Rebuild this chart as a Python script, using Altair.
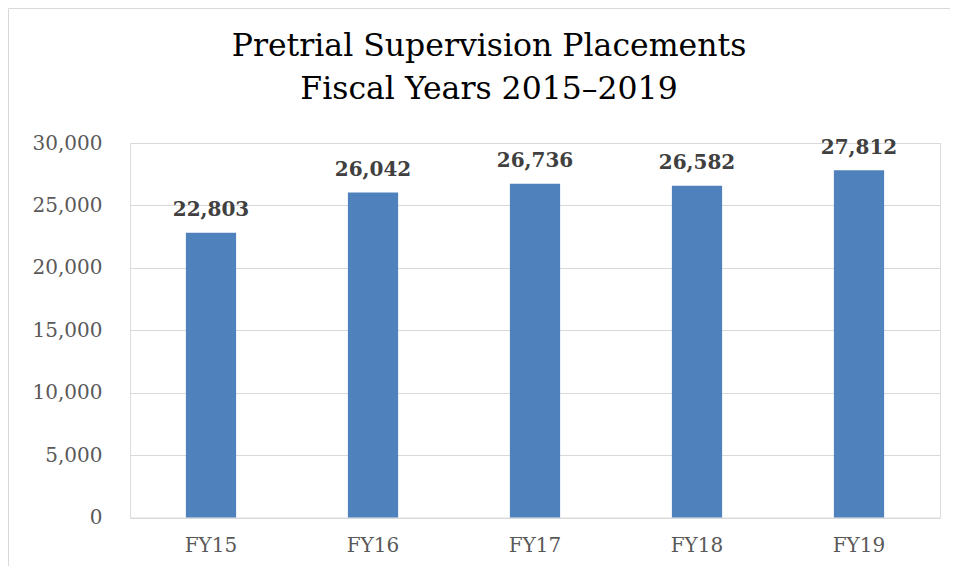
import altair as alt
import pandas as pd

years = ["FY15", "FY16", "FY17", "FY18", "FY19"]
placements = [22803, 26042, 26736, 26582, 27812]
title_lines = ["Pretrial Supervision Placements", "Fiscal Years 2015\u20132019"]
y_ticks = [0, 5000, 10000, 15000, 20000, 25000, 30000]

df = pd.DataFrame({"year": years, "placements": placements})

FONT = "DejaVu Serif"

base = alt.Chart(df).encode(
    x=alt.X(
        "year:N",
        sort=years,
        title=None,
        scale=alt.Scale(paddingInner=0.69, paddingOuter=0.345),
        axis=alt.Axis(
            labelAngle=0,
            domain=False,
            ticks=False,
            grid=False,
            labelFont=FONT,
            labelFontSize=20,
            labelColor="#595959",
            labelPadding=18,
        ),
    ),
    y=alt.Y(
        "placements:Q",
        title=None,
        scale=alt.Scale(domain=[0, 30000], nice=False),
        axis=alt.Axis(
            values=y_ticks,
            format=",d",
            domain=False,
            ticks=False,
            grid=True,
            gridColor="#d9d9d9",
            gridWidth=1,
            labelFont=FONT,
            labelFontSize=20,
            labelColor="#595959",
            labelPadding=28,
        ),
    ),
)

bars = base.mark_bar(color="#4f81bd")

labels = base.mark_text(
    font=FONT,
    fontSize=20,
    fontWeight="bold",
    color="#404040",
    baseline="alphabetic",
    dy=-16.5,
).encode(text=alt.Text("placements:Q", format=",d"))

one = pd.DataFrame({"a": [0]})
border_left = alt.Chart(one).mark_rule(color="#d9d9d9", strokeWidth=1).encode(
    x=alt.value(-121.5),
    y=alt.value(-134.5),
    y2=alt.value(600),
)
border_top = alt.Chart(one).mark_rule(color="#d9d9d9", strokeWidth=1).encode(
    x=alt.value(-121.5),
    x2=alt.value(840),
    y=alt.value(-134.5),
)

chart = (
    alt.layer(border_left, border_top, bars, labels)
    .properties(
        width=810,
        height=374.5,
        autosize=alt.AutoSizeParams(type="none"),
        padding={"left": 122, "top": 135, "right": 10, "bottom": 48},
        title=alt.TitleParams(
            text=title_lines,
            font=FONT,
            fontSize=31.5,
            fontWeight="normal",
            color="#000000",
            lineHeight=43.4,
            anchor="middle",
            frame="group",
            baseline="bottom",
            offset=26,
            dx=-46,
            dy=156,
        ),
    )
    .configure_view(strokeWidth=0)
    .configure(background="white")
)

chart.save("out.html", embed_options={"renderer": "svg", "actions": False})
